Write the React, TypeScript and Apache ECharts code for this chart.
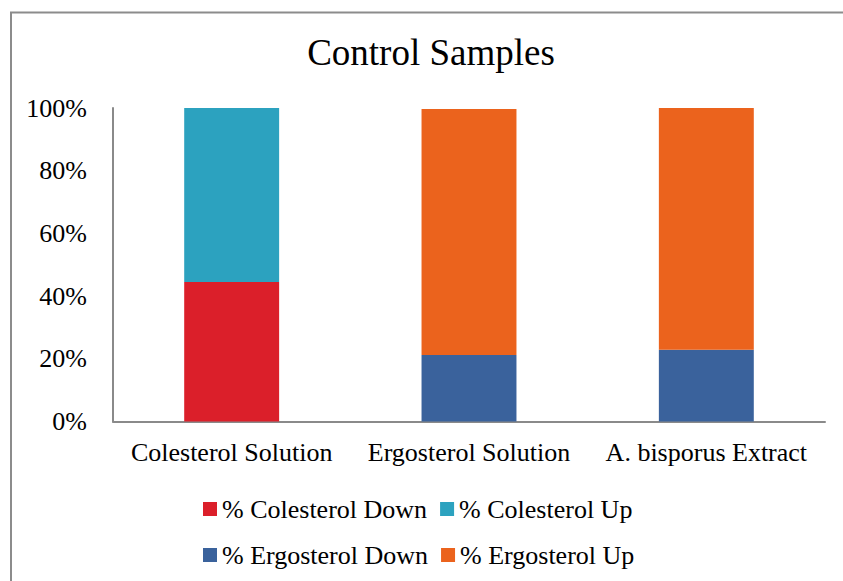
import React, { useEffect, useRef } from "react";
import * as echarts from "echarts";

const categories = ["Colesterol Solution", "Ergosterol Solution", "A. bisporus Extract"];
const colesterolDown = [44.5, null, null];
const colesterolUp = [55.5, null, null];
const ergosterolDown = [null, 21.2, 22.9];
const ergosterolUp = [null, 78.5, 77.1];
const yTicks = [0, 20, 40, 60, 80, 100];

const FONT = "Liberation Serif, Times New Roman, serif";
const AXIS_GREY = "#8a8a8a";

export default function App() {
  const ref = useRef<HTMLDivElement>(null);

  useEffect(() => {
    if (!ref.current) return;
    const chart = echarts.init(ref.current, undefined, { renderer: "svg" });

    const bar = (name: string, data: (number | null)[], color: string) => ({
      name,
      type: "bar",
      stack: "total",
      barWidth: "40%",
      data,
      itemStyle: { color },
    });

    const legendBase = {
      left: 203,
      padding: 0,
      itemWidth: 14,
      itemHeight: 14,
      itemGap: 13,
      itemTextGap: 9,
      icon: "rect",
      textStyle: { fontFamily: FONT, fontSize: 26, color: "#000" },
    };

    chart.setOption({
      animation: false,
      backgroundColor: "#ffffff",
      textStyle: { fontFamily: FONT },
      title: {
        text: "Control Samples",
        left: 426,
        top: 29,
        textAlign: "center",
        textStyle: { fontFamily: FONT, fontSize: 37, fontWeight: "normal", color: "#000" },
      },
      graphic: [
        {
          type: "polyline",
          shape: { points: [[11, 700], [11, 12.5], [900, 12.5]] },
          style: { fill: "none", stroke: "#8c8c8c", lineWidth: 2 },
          silent: true,
        },
      ],
      legend: [
        { ...legendBase, data: ["% Colesterol Down", "% Colesterol Up"], top: 496 },
        { ...legendBase, data: ["% Ergosterol Down", "% Ergosterol Up"], top: 542 },
      ],
      grid: { left: 113, right: 18, top: 108, bottom: 159.5, containLabel: false },
      xAxis: {
        type: "category",
        data: categories,
        axisLine: { lineStyle: { color: AXIS_GREY, width: 2 } },
        axisTick: { show: false },
        axisLabel: { fontFamily: FONT, fontSize: 26, color: "#000", margin: 18, interval: 0 },
      },
      yAxis: {
        type: "value",
        min: yTicks[0],
        max: yTicks[yTicks.length - 1],
        interval: yTicks[1] - yTicks[0],
        axisLine: { show: true, lineStyle: { color: AXIS_GREY, width: 2 } },
        axisTick: { show: false },
        splitLine: { show: false },
        axisLabel: { fontFamily: FONT, fontSize: 26, color: "#000", margin: 26, formatter: "{value}%" },
      },
      series: [
        bar("% Colesterol Down", colesterolDown, "#db1f2a"),
        bar("% Colesterol Up", colesterolUp, "#2ca2bf"),
        bar("% Ergosterol Down", ergosterolDown, "#3a629c"),
        bar("% Ergosterol Up", ergosterolUp, "#eb631d"),
      ],
    });

    return () => chart.dispose();
  }, []);

  return (
    <div
      ref={ref}
      style={{ position: "fixed", left: 0, top: 0, width: 843, height: 581, background: "#fff" }}
    />
  );
}
